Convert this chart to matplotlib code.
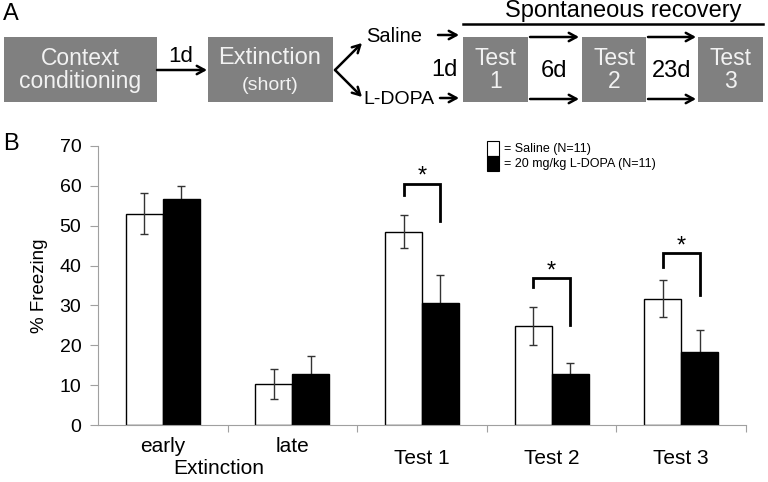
import matplotlib
matplotlib.use('Agg')
import matplotlib.pyplot as plt
from matplotlib.patches import Rectangle
import numpy as np

plt.rcParams['font.family'] = ['Liberation Sans', 'DejaVu Sans']

# bar data (% freezing, mean and SEM)
groups = ['early', 'late', 'Test 1', 'Test 2', 'Test 3']
saline = [53.0, 10.3, 48.5, 24.8, 31.7]
saline_err = [5.1, 3.7, 4.2, 4.7, 4.6]
ldopa = [56.6, 12.8, 30.5, 12.9, 18.2]
ldopa_err = [3.3, 4.4, 7.2, 2.7, 5.6]

# significance brackets: group index, top, left leg end, right leg end
sig_groups = [2, 3, 4]
sig_top = [60.5, 36.8, 43.1]
sig_left = [57.7, 34.7, 39.7]
sig_right = [51.2, 25.0, 32.6]

# schematic texts
box_labels = ['Context\nconditioning', 'Extinction', 'Test\n1', 'Test\n2', 'Test\n3']
gap_labels = ['1d', '6d', '23d']

fig = plt.figure(figsize=(7.68, 4.82), dpi=100)

# ---------- panel A: schematic, drawn in pixel coordinates ----------
ax0 = fig.add_axes([0, 0, 1, 1])
ax0.set_xlim(0, 768)
ax0.set_ylim(482, 0)
ax0.axis('off')

grey = '#808080'
txtc = '#f2f2f2'
boxes = [(4, 157), (208, 333), (463, 528), (582, 646), (698, 763)]
top, bot = 37, 102
for (x0, x1), lab in zip(boxes, box_labels):
    ax0.add_patch(Rectangle((x0, top), x1 - x0, bot - top, color=grey, lw=0))
for i in [0, 2, 3, 4]:
    x0, x1 = boxes[i]
    ax0.text((x0 + x1) / 2, 70, box_labels[i], ha='center', va='center',
             color=txtc, fontsize=16.5, linespacing=1.05)
ax0.text(270, 58, box_labels[1], ha='center', va='center', color=txtc, fontsize=17)
ax0.text(270, 86, '(short)', ha='center', va='center', color=txtc, fontsize=14)

ap = dict(arrowstyle='->,head_length=0.55,head_width=0.3', lw=1.8, color='black',
          shrinkA=0, shrinkB=0)
ax0.annotate('', xy=(207, 70), xytext=(157, 70), arrowprops=ap)
ax0.text(181, 56, '1d', ha='center', va='center', fontsize=16)

# branch
ax0.annotate('', xy=(362, 43), xytext=(335, 70), arrowprops=ap)
ax0.annotate('', xy=(362, 97), xytext=(335, 70), arrowprops=ap)
ax0.text(366, 37, 'Saline', ha='left', va='center', fontsize=14.5)
ax0.text(363, 99, 'L-DOPA', ha='left', va='center', fontsize=14)
ax0.annotate('', xy=(459, 35), xytext=(438, 35), arrowprops=ap)
ax0.annotate('', xy=(459, 98), xytext=(440, 98), arrowprops=ap)
ax0.text(458, 70, gap_labels[0], ha='right', va='center', fontsize=17)

# between tests
for (a, b), lab in zip([(530, 579), (648, 696)], gap_labels[1:]):
    ax0.annotate('', xy=(b, 37), xytext=(a, 37), arrowprops=ap)
    ax0.annotate('', xy=(b, 99), xytext=(a, 99), arrowprops=ap)
    ax0.text((a + b) / 2, 71, lab, ha='center', va='center', fontsize=17)

ax0.plot([463, 763], [24, 24], color='black', lw=1.8)
ax0.text(623, 11, 'Spontaneous recovery', ha='center', va='center', fontsize=17)

ax0.text(3, 14, 'A', ha='left', va='center', fontsize=17)
ax0.text(3, 144, 'B', ha='left', va='center', fontsize=17)

# legend (manual, as in the figure)
ax0.add_patch(Rectangle((487, 141), 12, 15, facecolor='white', edgecolor='black', lw=0.8))
ax0.add_patch(Rectangle((487, 156), 12, 15, facecolor='black', edgecolor='black', lw=0.8))
ax0.text(504, 149, '= Saline (N=11)', ha='left', va='center', fontsize=9)
ax0.text(504, 164, '= 20 mg/kg L-DOPA (N=11)', ha='left', va='center', fontsize=9)

# ---------- panel B: bar chart ----------
ax = fig.add_axes([98 / 768, (482 - 425) / 482, 648 / 768, (425 - 146) / 482])
ax.patch.set_alpha(0)
x = np.arange(len(groups))
w = 0.285
ax.bar(x - w / 2, saline, w, color='white', edgecolor='black', lw=1.0, zorder=2)
ax.bar(x + w / 2, ldopa, w, color='black', edgecolor='black', lw=1.0, zorder=2)
ax.errorbar(x - w / 2, saline, yerr=saline_err, fmt='none', ecolor='#333333',
            elinewidth=1, capsize=3, capthick=1, zorder=3)
ax.errorbar(x + w / 2, ldopa, yerr=ldopa_err, fmt='none', ecolor='#333333',
            elinewidth=1, capsize=3, capthick=1, zorder=1)

for g, t, l, r in zip(sig_groups, sig_top, sig_left, sig_right):
    xl, xr = g - w / 2, g + w / 2
    ax.plot([xl, xl, xr, xr], [l, t, t, r], color='black', lw=2, zorder=4,
            solid_joinstyle='miter')
    ax.text(g, t - 1.0, '*', ha='center', va='bottom', fontsize=17)

ax.set_xlim(-0.5, len(groups) - 0.5)
ax.set_ylim(0, 70)
ax.set_yticks(range(0, 71, 10))
ax.set_xticks(np.arange(len(groups)) + 0.5)
ax.set_xticklabels([])
for s in ['top', 'right']:
    ax.spines[s].set_visible(False)
for s in ['left', 'bottom']:
    ax.spines[s].set_color('#a0a0a0')
ax.tick_params(axis='y', length=6, color='#a0a0a0', labelsize=14, pad=6)
ax.tick_params(axis='x', length=5, color='#a0a0a0')
ax.set_ylabel('% Freezing', fontsize=13.5, labelpad=8)

# category labels below the axis
for i, g in enumerate(groups):
    yy = 446 if i < 2 else 459
    ax0.text(98 + 129.6 * (i + 0.5), yy, g, ha='center', va='center', fontsize=15)
ax0.text(219, 469, 'Extinction', ha='center', va='center', fontsize=15)

fig.savefig('out.png', dpi=100)
